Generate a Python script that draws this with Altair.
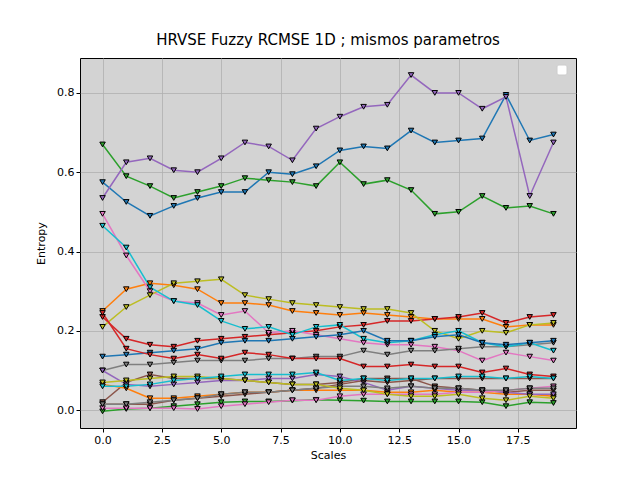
import pandas as pd
import altair as alt

scales = list(range(20))

s01 = [0.575, 0.525, 0.49, 0.515, 0.535, 0.55, 0.55, 0.6, 0.595, 0.615, 0.655, 0.665, 0.66, 0.705, 0.675, 0.68, 0.685, 0.795, 0.68, 0.695]
s02 = [0.25, 0.305, 0.32, 0.315, 0.305, 0.27, 0.27, 0.265, 0.25, 0.245, 0.24, 0.245, 0.24, 0.235, 0.23, 0.23, 0.23, 0.21, 0.215, 0.215]
s03 = [0.67, 0.59, 0.565, 0.535, 0.55, 0.565, 0.585, 0.58, 0.575, 0.565, 0.625, 0.57, 0.58, 0.555, 0.495, 0.5, 0.54, 0.51, 0.515, 0.495]
s04 = [0.235, 0.18, 0.165, 0.16, 0.175, 0.18, 0.185, 0.19, 0.195, 0.2, 0.21, 0.215, 0.225, 0.225, 0.23, 0.235, 0.245, 0.22, 0.235, 0.24]
s05 = [0.535, 0.625, 0.635, 0.605, 0.6, 0.635, 0.675, 0.665, 0.63, 0.71, 0.74, 0.765, 0.77, 0.845, 0.8, 0.8, 0.76, 0.79, 0.54, 0.675]
s06 = [0.02, 0.07, 0.09, 0.08, 0.08, 0.08, 0.075, 0.07, 0.065, 0.065, 0.07, 0.08, 0.08, 0.08, 0.06, 0.055, 0.05, 0.045, 0.05, 0.05]
s07 = [0.495, 0.39, 0.3, 0.275, 0.27, 0.24, 0.25, 0.195, 0.2, 0.19, 0.18, 0.17, 0.165, 0.165, 0.16, 0.15, 0.125, 0.145, 0.135, 0.125]
s08 = [0.10, 0.115, 0.115, 0.12, 0.125, 0.125, 0.125, 0.13, 0.13, 0.135, 0.135, 0.15, 0.14, 0.15, 0.15, 0.155, 0.16, 0.16, 0.165, 0.17]
s09 = [0.21, 0.26, 0.29, 0.32, 0.325, 0.33, 0.29, 0.28, 0.27, 0.265, 0.26, 0.255, 0.255, 0.245, 0.2, 0.18, 0.2, 0.195, 0.215, 0.22]
s10 = [0.465, 0.41, 0.31, 0.275, 0.265, 0.225, 0.205, 0.21, 0.19, 0.21, 0.215, 0.18, 0.17, 0.175, 0.19, 0.2, 0.17, 0.16, 0.17, 0.15]
s11 = [0.135, 0.14, 0.145, 0.15, 0.155, 0.17, 0.175, 0.175, 0.18, 0.185, 0.19, 0.2, 0.175, 0.175, 0.185, 0.19, 0.17, 0.165, 0.17, 0.175]
s12 = [0.065, 0.055, 0.03, 0.03, 0.035, 0.04, 0.045, 0.045, 0.05, 0.05, 0.05, 0.05, 0.045, 0.045, 0.05, 0.045, 0.045, 0.04, 0.04, 0.035]
s13 = [-0.003, 0.003, 0.005, 0.01, 0.015, 0.02, 0.022, 0.022, 0.024, 0.026, 0.025, 0.024, 0.022, 0.022, 0.022, 0.022, 0.02, 0.01, 0.02, 0.018]
s14 = [0.245, 0.155, 0.14, 0.13, 0.14, 0.13, 0.145, 0.14, 0.13, 0.13, 0.13, 0.11, 0.11, 0.115, 0.11, 0.11, 0.095, 0.105, 0.09, 0.085]
s15 = [0.1, 0.065, 0.06, 0.065, 0.07, 0.075, 0.075, 0.08, 0.08, 0.09, 0.085, 0.07, 0.05, 0.06, 0.055, 0.05, 0.05, 0.045, 0.04, 0.04]
s16 = [0.015, 0.015, 0.015, 0.025, 0.03, 0.035, 0.04, 0.045, 0.05, 0.055, 0.065, 0.075, 0.07, 0.075, 0.08, 0.08, 0.08, 0.08, 0.08, 0.08]
s17 = [0.005, 0.005, 0.005, 0.005, 0.003, 0.01, 0.015, 0.02, 0.025, 0.025, 0.035, 0.04, 0.04, 0.04, 0.04, 0.045, 0.045, 0.05, 0.055, 0.06]
s18 = [0.015, 0.015, 0.02, 0.025, 0.03, 0.04, 0.045, 0.045, 0.05, 0.055, 0.06, 0.06, 0.055, 0.06, 0.055, 0.055, 0.05, 0.05, 0.055, 0.055]
s19 = [0.07, 0.075, 0.08, 0.085, 0.085, 0.08, 0.075, 0.07, 0.065, 0.065, 0.055, 0.05, 0.04, 0.035, 0.035, 0.04, 0.03, 0.025, 0.035, 0.03]
s20 = [0.06, 0.06, 0.065, 0.075, 0.08, 0.085, 0.09, 0.09, 0.09, 0.095, 0.075, 0.08, 0.075, 0.08, 0.08, 0.085, 0.085, 0.08, 0.085, 0.08]

series = [s01, s02, s03, s04, s05, s06, s07, s08, s09, s10,
          s11, s12, s13, s14, s15, s16, s17, s18, s19, s20]
tab10 = ['#1f77b4', '#ff7f0e', '#2ca02c', '#d62728', '#9467bd',
         '#8c564b', '#e377c2', '#7f7f7f', '#bcbd22', '#17becf']

rows = []
for i, vals in enumerate(series):
    for x, v in zip(scales, vals):
        rows.append({'serie': 's%02d' % (i + 1), 'order': i, 'Scales': x, 'Entropy': v})
df = pd.DataFrame(rows)

names = ['s%02d' % (i + 1) for i in range(20)]
color = alt.Color('serie:N', scale=alt.Scale(domain=names, range=tab10 * 2), legend=None)

base = alt.Chart(df).encode(
    x=alt.X('Scales:Q', title='Scales',
            scale=alt.Scale(domain=[-0.95, 19.95], nice=False, zero=False),
            axis=alt.Axis(values=[0, 2.5, 5, 7.5, 10, 12.5, 15, 17.5], format='.1f')),
    y=alt.Y('Entropy:Q', title='Entropy',
            scale=alt.Scale(domain=[-0.045, 0.888], nice=False, zero=False),
            axis=alt.Axis(values=[0, 0.2, 0.4, 0.6, 0.8], format='.1f')),
    color=color,
    detail='serie:N',
)

lines = base.mark_line(strokeWidth=1.5)
points = base.mark_point(shape='triangle-down', filled=True, size=30,
                         stroke='black', strokeWidth=1, opacity=1)

legend_box = alt.Chart(pd.DataFrame({'a': [0]})).mark_rect(
    fill='white', stroke='#cccccc', cornerRadius=2
).encode(x=alt.value(477), x2=alt.value(487), y=alt.value(7), y2=alt.value(17))

chart = (lines + points + legend_box).properties(
    width=496, height=370,
    title=alt.TitleParams('HRVSE Fuzzy RCMSE 1D ; mismos parametros',
                          fontSize=15, fontWeight='normal', font='DejaVu Sans'),
    padding={'left': 72, 'top': 50, 'right': 56, 'bottom': 36},
    autosize='none',
).configure_view(
    fill='#d3d3d3', stroke='black', strokeWidth=1
).configure_axis(
    grid=True, gridColor='#b0b0b0', gridWidth=0.8,
    domain=False, tickColor='black', labelColor='black', labelFont='DejaVu Sans',
    titleFont='DejaVu Sans', labelFontSize=11, titleFontSize=11,
    titleFontWeight='normal', tickSize=4
).configure_axisY(titlePadding=10).configure_title(offset=10)

chart.save('out.html', embed_options={'renderer': 'svg', 'actions': False})
